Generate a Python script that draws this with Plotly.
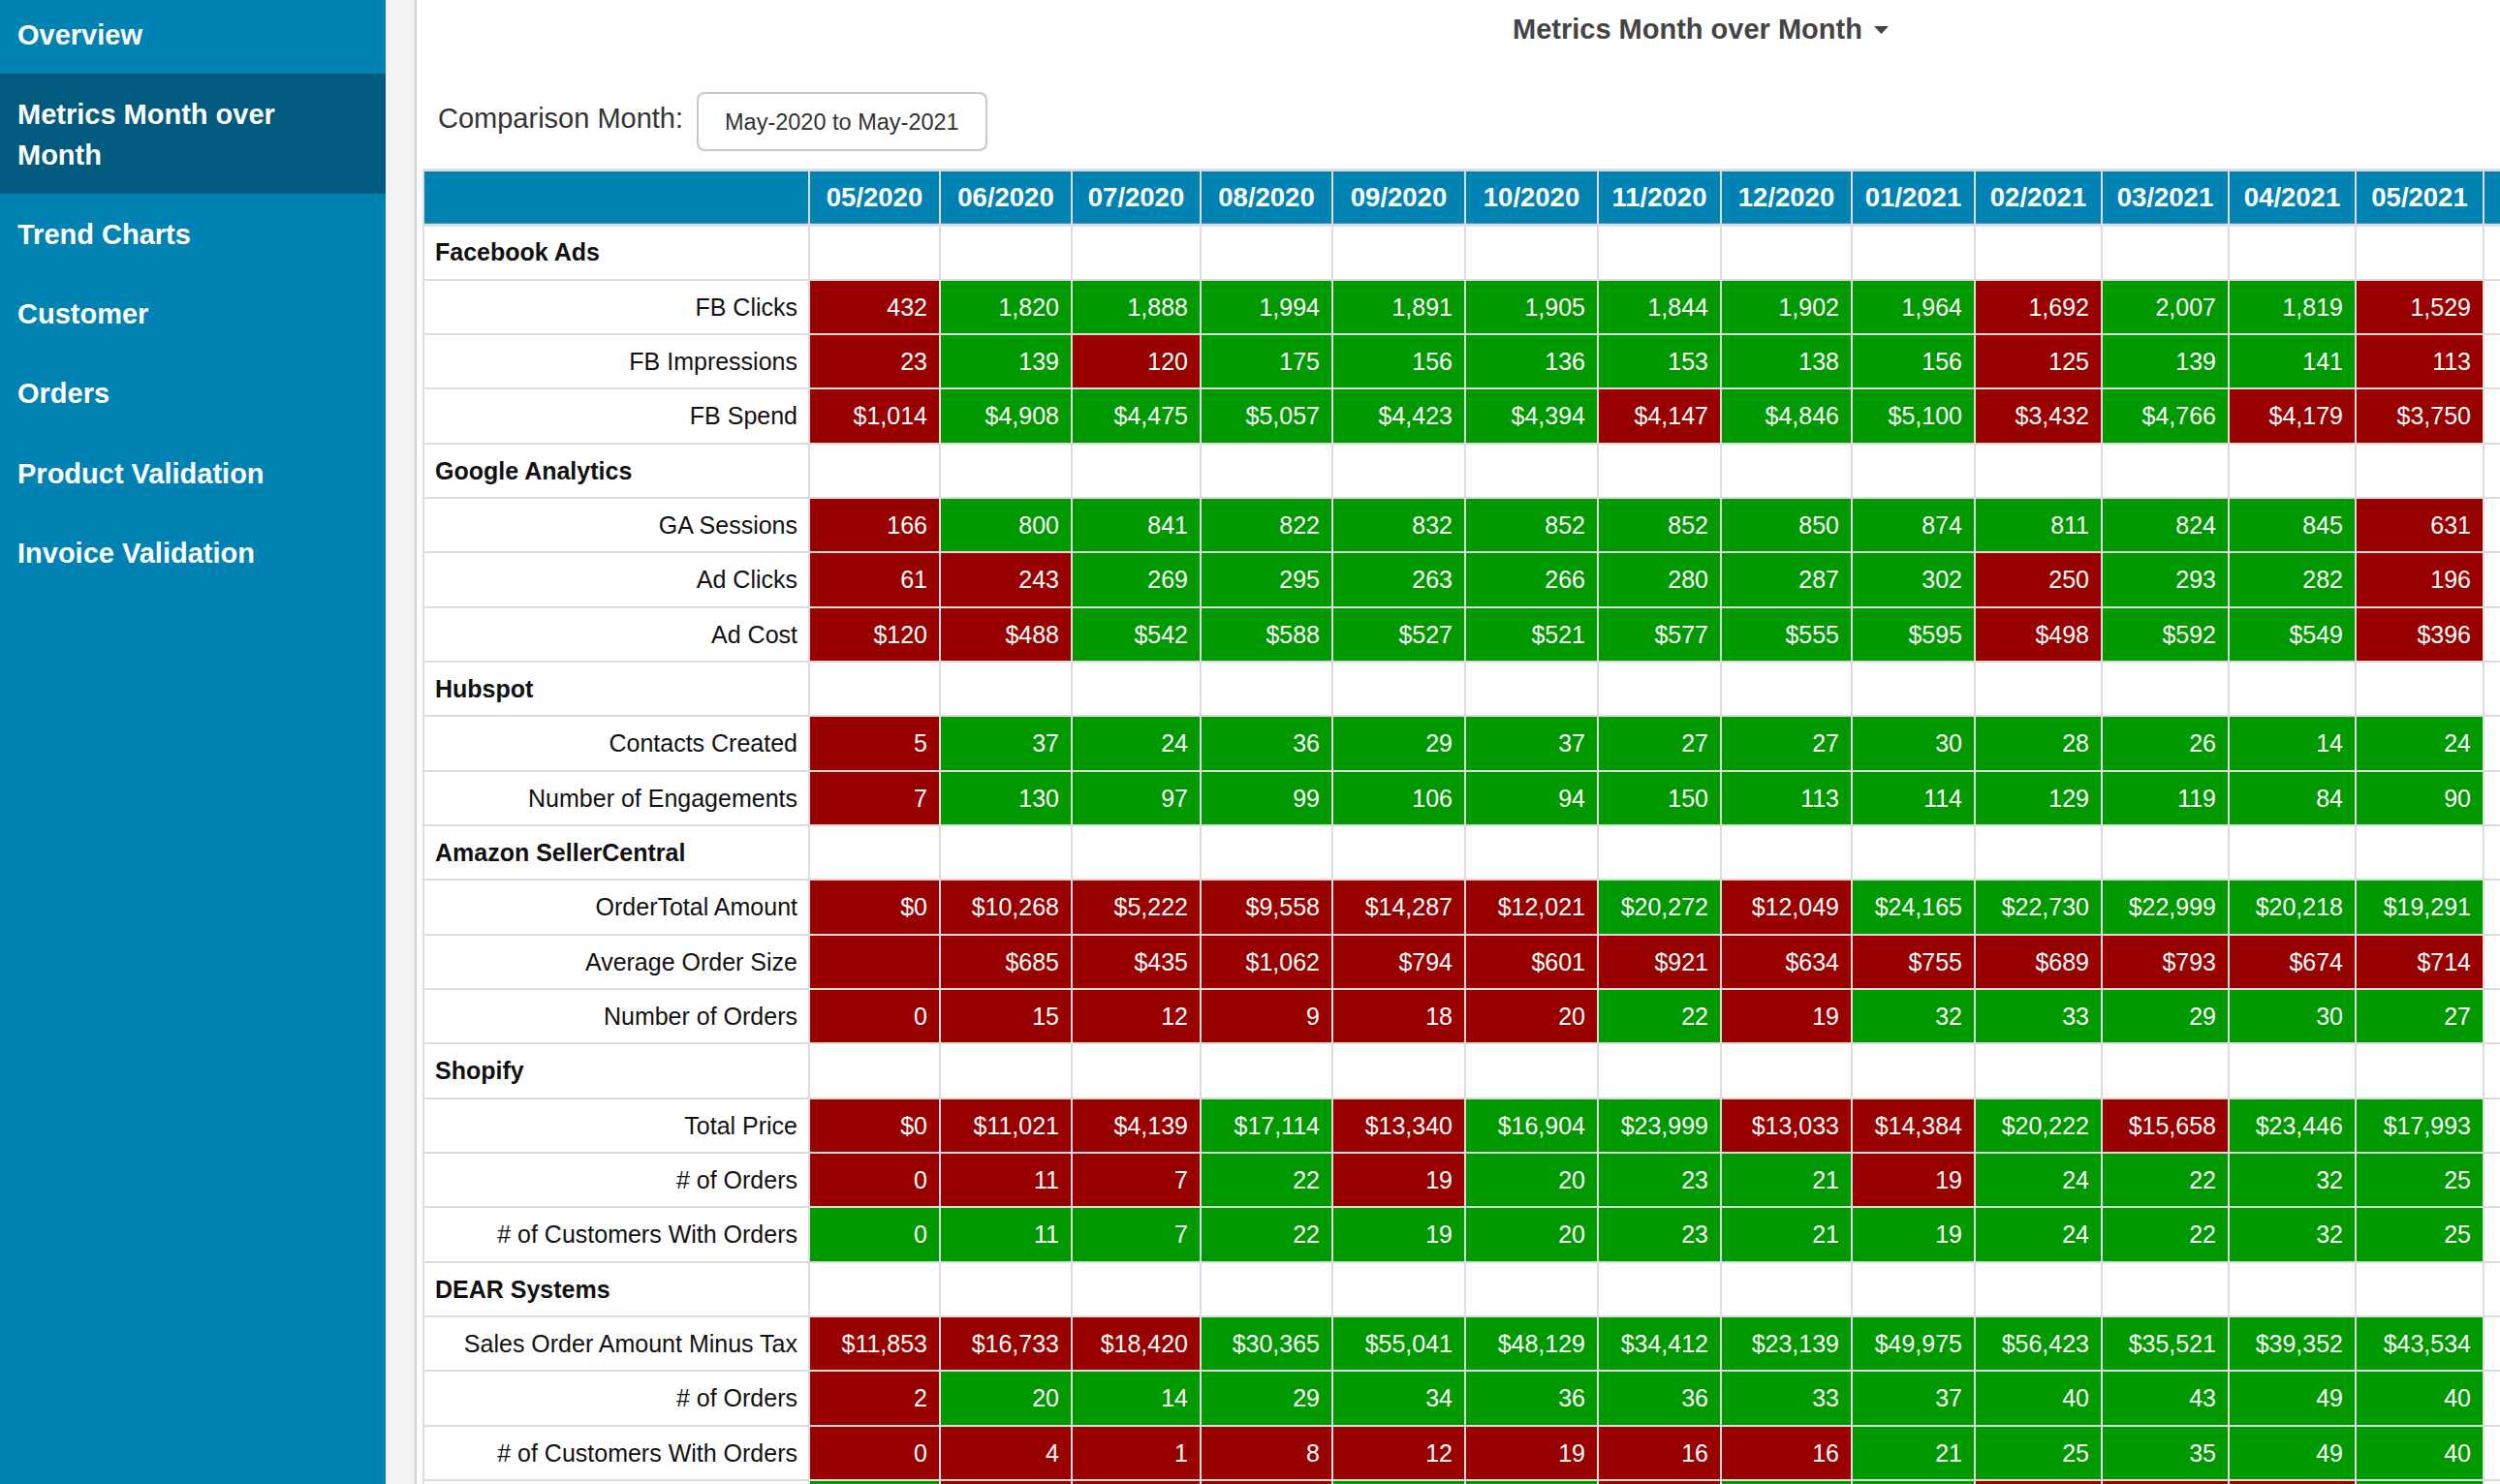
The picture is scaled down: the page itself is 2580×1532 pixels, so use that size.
import plotly.graph_objects as go

# ---------------- data ----------------
MONTHS = ["05/2020", "06/2020", "07/2020", "08/2020", "09/2020", "10/2020", "11/2020",
          "12/2020", "01/2021", "02/2021", "03/2021", "04/2021", "05/2021"]

FB_CLICKS = [432, 1820, 1888, 1994, 1891, 1905, 1844, 1902, 1964, 1692, 2007, 1819, 1529]
FB_CLICKS_ST = list("RGGGGGGGGRGGR")
FB_IMPRESSIONS = [23, 139, 120, 175, 156, 136, 153, 138, 156, 125, 139, 141, 113]
FB_IMPRESSIONS_ST = list("RGRGGGGGGRGGR")
FB_SPEND = [1014, 4908, 4475, 5057, 4423, 4394, 4147, 4846, 5100, 3432, 4766, 4179, 3750]
FB_SPEND_ST = list("RGGGGGRGGRGRR")

GA_SESSIONS = [166, 800, 841, 822, 832, 852, 852, 850, 874, 811, 824, 845, 631]
GA_SESSIONS_ST = list("RGGGGGGGGGGGR")
AD_CLICKS = [61, 243, 269, 295, 263, 266, 280, 287, 302, 250, 293, 282, 196]
AD_CLICKS_ST = list("RRGGGGGGGRGGR")
AD_COST = [120, 488, 542, 588, 527, 521, 577, 555, 595, 498, 592, 549, 396]
AD_COST_ST = list("RRGGGGGGGRGGR")

CONTACTS_CREATED = [5, 37, 24, 36, 29, 37, 27, 27, 30, 28, 26, 14, 24]
CONTACTS_CREATED_ST = list("RGGGGGGGGGGGG")
ENGAGEMENTS = [7, 130, 97, 99, 106, 94, 150, 113, 114, 129, 119, 84, 90]
ENGAGEMENTS_ST = list("RGGGGGGGGGGGG")

AMZ_ORDER_TOTAL = [0, 10268, 5222, 9558, 14287, 12021, 20272, 12049, 24165, 22730, 22999, 20218, 19291]
AMZ_ORDER_TOTAL_ST = list("RRRRRRGRGGGGG")
AMZ_AVG_ORDER = [None, 685, 435, 1062, 794, 601, 921, 634, 755, 689, 793, 674, 714]
AMZ_AVG_ORDER_ST = list("RRRRRRRRRRRRR")
AMZ_ORDERS = [0, 15, 12, 9, 18, 20, 22, 19, 32, 33, 29, 30, 27]
AMZ_ORDERS_ST = list("RRRRRRGRGGGGG")

SHOP_TOTAL_PRICE = [0, 11021, 4139, 17114, 13340, 16904, 23999, 13033, 14384, 20222, 15658, 23446, 17993]
SHOP_TOTAL_PRICE_ST = list("RRRGRGGRRGRGG")
SHOP_ORDERS = [0, 11, 7, 22, 19, 20, 23, 21, 19, 24, 22, 32, 25]
SHOP_ORDERS_ST = list("RRRGRGGGRGGGG")
SHOP_CUSTOMERS = [0, 11, 7, 22, 19, 20, 23, 21, 19, 24, 22, 32, 25]
SHOP_CUSTOMERS_ST = list("GGGGGGGGGGGGG")

DEAR_SALES = [11853, 16733, 18420, 30365, 55041, 48129, 34412, 23139, 49975, 56423, 35521, 39352, 43534]
DEAR_SALES_ST = list("RRRGGGGGGGGGG")
DEAR_ORDERS = [2, 20, 14, 29, 34, 36, 36, 33, 37, 40, 43, 49, 40]
DEAR_ORDERS_ST = list("RGGGGGGGGGGGG")
DEAR_CUSTOMERS = [0, 4, 1, 8, 12, 19, 16, 16, 21, 25, 35, 49, 40]
DEAR_CUSTOMERS_ST = list("RRRRRRRRGGGGG")
# next row, cut off at the bottom edge of the screenshot (only its colours show)
CUT_ROW = [None] * 13
CUT_ROW_ST = list("GRRRGGRGGRRRG")

SECTIONS = [
    ("Facebook Ads", [("FB Clicks", FB_CLICKS, FB_CLICKS_ST, "num"),
                      ("FB Impressions", FB_IMPRESSIONS, FB_IMPRESSIONS_ST, "num"),
                      ("FB Spend", FB_SPEND, FB_SPEND_ST, "usd")]),
    ("Google Analytics", [("GA Sessions", GA_SESSIONS, GA_SESSIONS_ST, "num"),
                          ("Ad Clicks", AD_CLICKS, AD_CLICKS_ST, "num"),
                          ("Ad Cost", AD_COST, AD_COST_ST, "usd")]),
    ("Hubspot", [("Contacts Created", CONTACTS_CREATED, CONTACTS_CREATED_ST, "num"),
                 ("Number of Engagements", ENGAGEMENTS, ENGAGEMENTS_ST, "num")]),
    ("Amazon SellerCentral", [("OrderTotal Amount", AMZ_ORDER_TOTAL, AMZ_ORDER_TOTAL_ST, "usd"),
                              ("Average Order Size", AMZ_AVG_ORDER, AMZ_AVG_ORDER_ST, "usd"),
                              ("Number of Orders", AMZ_ORDERS, AMZ_ORDERS_ST, "num")]),
    ("Shopify", [("Total Price", SHOP_TOTAL_PRICE, SHOP_TOTAL_PRICE_ST, "usd"),
                 ("# of Orders", SHOP_ORDERS, SHOP_ORDERS_ST, "num"),
                 ("# of Customers With Orders", SHOP_CUSTOMERS, SHOP_CUSTOMERS_ST, "num")]),
    ("DEAR Systems", [("Sales Order Amount Minus Tax", DEAR_SALES, DEAR_SALES_ST, "usd"),
                      ("# of Orders", DEAR_ORDERS, DEAR_ORDERS_ST, "num"),
                      ("# of Customers With Orders", DEAR_CUSTOMERS, DEAR_CUSTOMERS_ST, "num"),
                      ("", CUT_ROW, CUT_ROW_ST, "num")]),
]

NAV_ITEMS = ["Overview", "Metrics Month over Month", "Trend Charts", "Customer",
             "Orders", "Product Validation", "Invoice Validation"]
PAGE_TITLE = "Metrics Month over Month"
COMPARISON_LABEL = "Comparison Month:"
COMPARISON_VALUE = "May-2020 to May-2021"

# ---------------- style / layout ----------------
W, H = 2580, 1532
BLUE = "#0083b3"
BLUE_DARK = "#005b7f"
RED = "#990000"
GREEN = "#009900"
GRID = "#dcdcdc"
FONT = "Helvetica Neue, Liberation Sans, Arial, sans-serif"

SIDEBAR_W = 398
GUTTER_W = 30
TABLE_X0 = 437
TABLE_Y0 = 176
ROW_H = 56.33
LABEL_W = 398
COL_W = [135, 136, 133, 136, 137, 137, 127, 135, 127, 131, 131, 131, 132]
EXTRA_W = 200
PAD = 12
CELL_FS = 25
HEAD_FS = 27.5
TEXT_DY = 2.5


def fmt(v, kind):
    if v is None:
        return ""
    return ("$" if kind == "usd" else "") + f"{v:,}"


# column edges
x_edges = [TABLE_X0, TABLE_X0 + LABEL_W]
for w in COL_W:
    x_edges.append(x_edges[-1] + w)
x_edges.append(x_edges[-1] + EXTRA_W)
ncols = len(x_edges) - 1

# rows
rows = [("header", None)]
for sec, metrics in SECTIONS:
    rows.append(("section", sec))
    for m in metrics:
        rows.append(("metric", m))
nrows = len(rows)
y_edges = [TABLE_Y0 + i * ROW_H for i in range(nrows + 1)]
y_mid = [(y_edges[i] + y_edges[i + 1]) / 2 + TEXT_DY for i in range(nrows)]

# z matrix: 0 white, 1 red, 2 green, 3 header blue
z = []
for kind, item in rows:
    if kind == "header":
        z.append([3] * ncols)
    elif kind == "section":
        z.append([0] * ncols)
    else:
        st = item[2]
        z.append([0] + [1 if s == "R" else 2 for s in st] + [0])

fig = go.Figure()

# gridline background behind table
fig.add_shape(type="rect", xref="x", yref="y", layer="below",
              x0=x_edges[0] - 1, x1=W + 5, y0=y_edges[0] - 2, y1=y_edges[-1] + 1,
              fillcolor=GRID, line_width=0)

fig.add_trace(go.Heatmap(
    x=x_edges, y=y_edges, z=z, zmin=0, zmax=3, showscale=False,
    colorscale=[[0, "#ffffff"], [0.1667, "#ffffff"], [0.1667, RED], [0.5, RED],
                [0.5, GREEN], [0.8333, GREEN], [0.8333, BLUE], [1, BLUE]],
    xgap=2, ygap=2, hoverinfo="skip"))

# header texts
hx = [(x_edges[i + 1] + x_edges[i + 2]) / 2 for i in range(len(MONTHS))]
fig.add_trace(go.Scatter(
    x=hx, y=[y_mid[0] - 1] * len(MONTHS), text=MONTHS, mode="text",
    textposition="middle center",
    textfont=dict(family=FONT, size=HEAD_FS, color="white", weight="bold"),
    hoverinfo="skip", showlegend=False))

# section / label / value texts
sec_x, sec_y, sec_t = [], [], []
lab_x, lab_y, lab_t = [], [], []
val_x, val_y, val_t = [], [], []
for r, (kind, item) in enumerate(rows):
    if kind == "section":
        sec_x.append(x_edges[0] + PAD)
        sec_y.append(y_mid[r])
        sec_t.append(item)
    elif kind == "metric":
        label, vals, st, k = item
        lab_x.append(x_edges[1] - PAD)
        lab_y.append(y_mid[r])
        lab_t.append(label)
        for c, v in enumerate(vals):
            val_x.append(x_edges[c + 2] - PAD - 1)
            val_y.append(y_mid[r])
            val_t.append(fmt(v, k))

fig.add_trace(go.Scatter(
    x=sec_x, y=sec_y, text=sec_t, mode="text", textposition="middle right",
    textfont=dict(family=FONT, size=CELL_FS, color="#111111", weight="bold"),
    hoverinfo="skip", showlegend=False))
fig.add_trace(go.Scatter(
    x=lab_x, y=lab_y, text=lab_t, mode="text", textposition="middle left",
    textfont=dict(family=FONT, size=CELL_FS, color="#111111"),
    hoverinfo="skip", showlegend=False))
fig.add_trace(go.Scatter(
    x=val_x, y=val_y, text=val_t, mode="text", textposition="middle left",
    textfont=dict(family=FONT, size=CELL_FS, color="white"),
    hoverinfo="skip", showlegend=False))

# header bottom border (thicker)
fig.add_shape(type="line", xref="x", yref="y", x0=x_edges[0], x1=W + 5,
              y0=y_edges[1], y1=y_edges[1], line=dict(color=GRID, width=3))

# ---------------- page chrome ----------------
shapes = [
    dict(type="rect", xref="x", yref="y", x0=0, x1=SIDEBAR_W, y0=0, y1=H,
         fillcolor=BLUE, line_width=0, layer="above"),
    dict(type="rect", xref="x", yref="y", x0=0, x1=SIDEBAR_W, y0=76, y1=200,
         fillcolor=BLUE_DARK, line_width=0, layer="above"),
    dict(type="rect", xref="x", yref="y", x0=SIDEBAR_W, x1=SIDEBAR_W + GUTTER_W, y0=0, y1=H,
         fillcolor="#f2f2f2", line_width=0, layer="above"),
    dict(type="line", xref="x", yref="y", x0=SIDEBAR_W + GUTTER_W + 1, x1=SIDEBAR_W + GUTTER_W + 1,
         y0=0, y1=H, line=dict(color="#cfcfcf", width=2), layer="above"),
    # dropdown caret of page title
    dict(type="path", xref="x", yref="y", path="M 1934 27 L 1949 27 L 1941.5 35 Z",
         fillcolor="#444444", line_width=0, layer="above"),
    # comparison month select box (rounded)
    dict(type="path", xref="x", yref="y",
         path="M 728 96 L 1010 96 Q 1018 96 1018 104 L 1018 147 Q 1018 155 1010 155 "
              "L 728 155 Q 720 155 720 147 L 720 104 Q 720 96 728 96 Z",
         fillcolor="white", line=dict(color="#c8c8c8", width=2), layer="above"),
]
for s in shapes:
    fig.add_shape(**s)

nav_y = [36, 118, 242, 324, 406, 489, 571]
for item, yy in zip(NAV_ITEMS, nav_y):
    if item == "Metrics Month over Month":
        lines = [("Metrics Month over", 118), ("Month", 160)]
    else:
        lines = [(item, yy)]
    for txt, ly in lines:
        fig.add_annotation(x=16, y=ly, xref="x", yref="y", text=txt, showarrow=False,
                           xanchor="left", yanchor="middle",
                           font=dict(family=FONT, size=29, color="white", weight="bold"))

fig.add_annotation(x=1741, y=30, xref="x", yref="y", text=PAGE_TITLE, showarrow=False,
                   xanchor="center", yanchor="middle",
                   font=dict(family=FONT, size=29, color="#444444", weight="bold"))
fig.add_annotation(x=450, y=122, xref="x", yref="y", text=COMPARISON_LABEL, showarrow=False,
                   xanchor="left", yanchor="middle",
                   font=dict(family=FONT, size=29, color="#333333"))
fig.add_annotation(x=869, y=126, xref="x", yref="y", text=COMPARISON_VALUE, showarrow=False,
                   xanchor="center", yanchor="middle",
                   font=dict(family=FONT, size=23.5, color="#333333"))

fig.update_layout(
    width=W, height=H, autosize=False,
    margin=dict(l=0, r=0, t=0, b=0, pad=0),
    paper_bgcolor="white", plot_bgcolor="white",
    xaxis=dict(range=[0, W], visible=False, fixedrange=True, domain=[0, 1]),
    yaxis=dict(range=[H, 0], visible=False, fixedrange=True, domain=[0, 1]),
    showlegend=False,
)

fig.write_html("out.html", config={"displayModeBar": False},
               post_script="document.body.style.margin='0';document.body.style.overflow='hidden';")
